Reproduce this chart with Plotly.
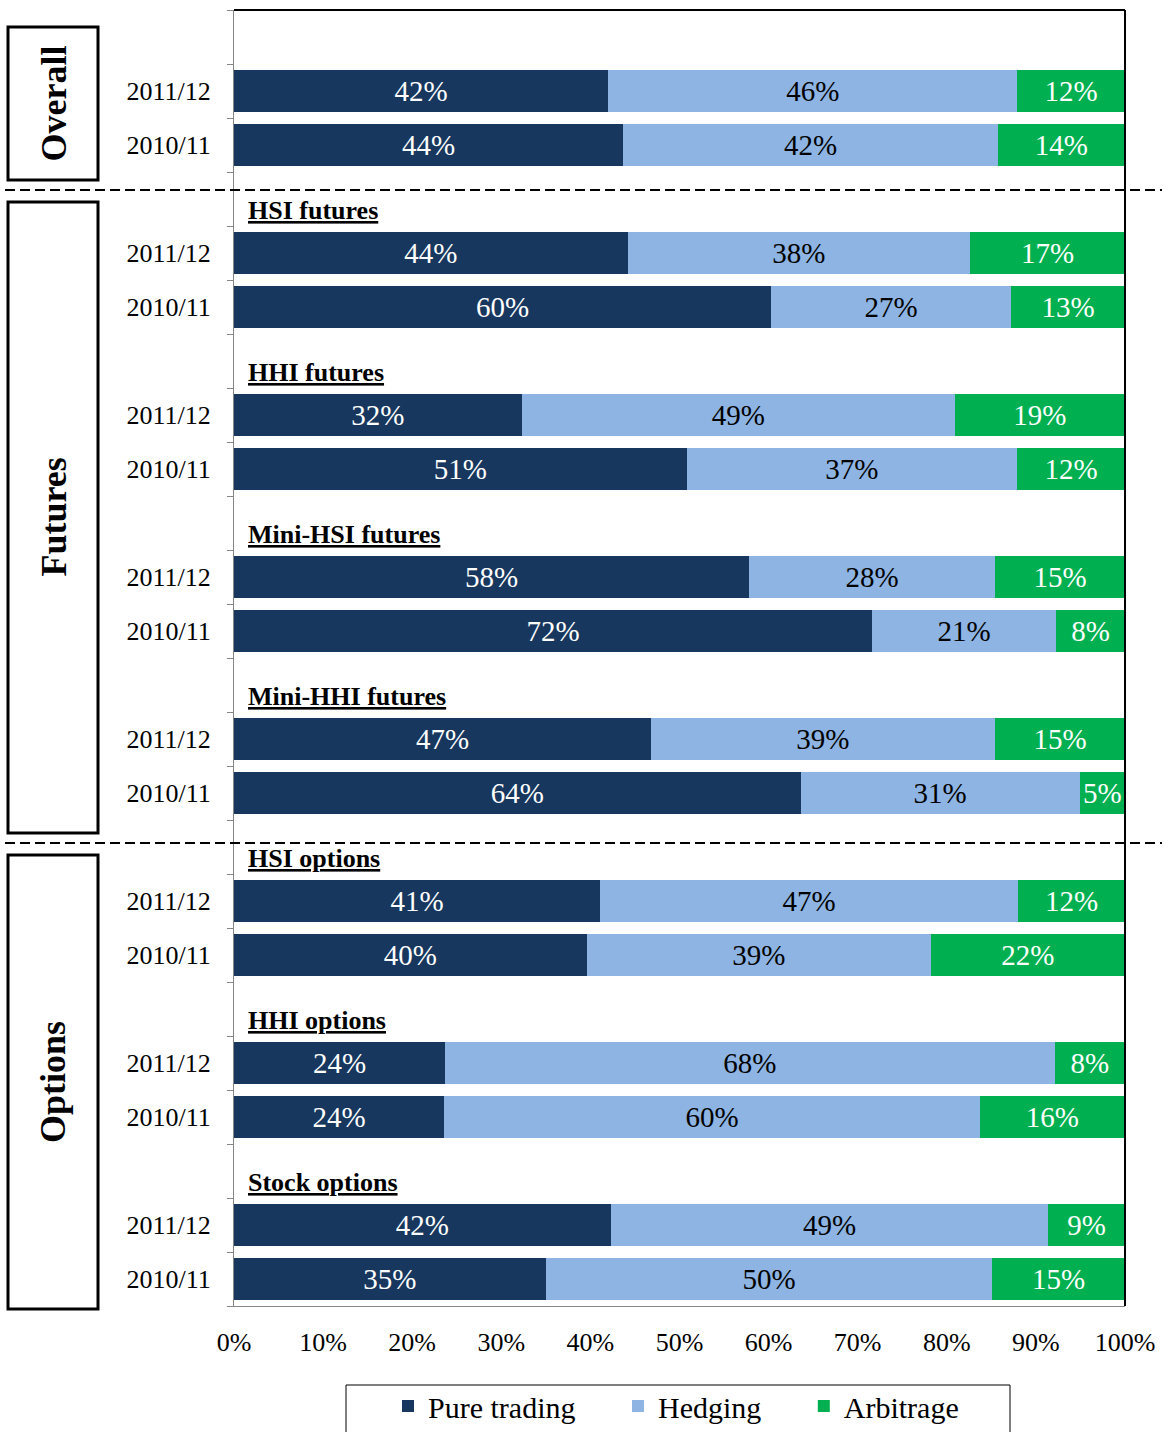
import plotly.graph_objects as go

# ---------------- data ----------------
groups = ["Overall", "HSI futures", "HHI futures", "Mini-HSI futures",
          "Mini-HHI futures", "HSI options", "HHI options", "Stock options"]
years = ["2011/12", "2010/11"]
series_names = ["Pure trading", "Hedging", "Arbitrage"]

# values in percent, order: per group [2011/12, 2010/11]
pure_trading = [42.0, 43.7, 44.2, 60.3, 32.3, 50.8, 57.8, 71.6,
                46.8, 63.6, 41.1, 39.6, 23.7, 23.6, 42.3, 35.0]
hedging = [45.9, 42.0, 38.4, 26.9, 48.6, 37.1, 27.6, 20.7,
           38.6, 31.3, 46.9, 38.6, 68.4, 60.1, 49.1, 50.1]
arbitrage = [12.1, 14.3, 17.4, 12.8, 19.1, 12.1, 14.6, 7.7,
             14.6, 5.1, 12.0, 21.8, 7.9, 16.3, 8.6, 14.9]

x_ticks = list(range(0, 101, 10))
section_labels = ["Overall", "Futures", "Options"]

# ---------------- layout helpers ----------------
W, H = 1169, 1432
L, R, T, B = 234, 1125, 10, 1306   # plot area in page pixels
PW, PH = R - L, B - T

def px_x(p):
    return (p - L) / PW

def px_y(p):
    return 1 - (p - T) / PH

# row positions: row 0 blank, overall rows 1,2 ; each other group: label row, then two data rows
ypos, ylab = [], []
label_rows = []
r = 1
for gi, g in enumerate(groups):
    if gi > 0:
        label_rows.append((g, r))
        r += 1
    for yl in years:
        ypos.append(r)
        ylab.append(yl)
        r += 1
n_rows = r  # 24

FONT = "Liberation Serif, Times New Roman, serif"
C_DARK, C_LIGHT, C_GREEN = "#17375E", "#8DB4E2", "#00B050"
PAD = "\u00a0" * 5

fig = go.Figure()
for name, vals, col, tcol in [(series_names[0], pure_trading, C_DARK, "white"),
                              (series_names[1], hedging, C_LIGHT, "black"),
                              (series_names[2], arbitrage, C_GREEN, "white")]:
    fig.add_trace(go.Bar(
        name=name + PAD, x=vals, y=ypos, orientation="h",
        marker=dict(color=col, line=dict(width=0)),
        texttemplate="%{x:.0f}%", textposition="inside",
        insidetextanchor="middle", textangle=0, constraintext="none",
        insidetextfont=dict(family=FONT, size=29, color=tcol),
        hoverinfo="skip",
    ))

shapes = []
# frame: top & right black
shapes.append(dict(type="line", xref="paper", yref="paper", x0=0, x1=1, y0=1, y1=1,
                   line=dict(color="black", width=2)))
shapes.append(dict(type="line", xref="paper", yref="paper", x0=1, x1=1, y0=0, y1=1,
                   line=dict(color="black", width=2)))
# dashed separators
for yy in [190, 843]:
    shapes.append(dict(type="line", xref="paper", yref="paper",
                       x0=px_x(5), x1=px_x(1162), y0=px_y(yy), y1=px_y(yy),
                       line=dict(color="black", width=2, dash="10px,5px")))
# section boxes
boxes = [(27, 180), (202, 833), (855, 1309)]
annotations = []
for (y0, y1), lab in zip(boxes, section_labels):
    shapes.append(dict(type="rect", xref="paper", yref="paper",
                       x0=px_x(8), x1=px_x(98), y0=px_y(y1), y1=px_y(y0),
                       line=dict(color="black", width=3), fillcolor="rgba(0,0,0,0)"))
    annotations.append(dict(xref="paper", yref="paper", x=px_x(53), y=px_y((y0 + y1) / 2),
                            text="<b>%s</b>" % lab, textangle=-90, showarrow=False,
                            font=dict(family=FONT, size=36, color="black"),
                            xanchor="center", yanchor="middle"))
# legend box
shapes.append(dict(type="rect", xref="paper", yref="paper",
                   x0=px_x(346), x1=px_x(1010), y0=px_y(1450), y1=px_y(1385),
                   line=dict(color="black", width=1), fillcolor="rgba(0,0,0,0)"))

# group labels
for g, rr in label_rows:
    annotations.append(dict(xref="paper", yref="y", x=px_x(246), y=rr + 0.22,
                            text="<b><u>%s</u></b>" % g, showarrow=False,
                            font=dict(family=FONT, size=26, color="black"),
                            xanchor="left", yanchor="middle"))

fig.update_layout(
    width=W, height=H,
    margin=dict(l=L, r=W - R, t=T, b=H - B, pad=0, autoexpand=False),
    paper_bgcolor="white", plot_bgcolor="white",
    barmode="stack", bargap=0.23,
    font=dict(family=FONT, color="black"),
    shapes=shapes, annotations=annotations,
    showlegend=True,
    legend=dict(orientation="h", traceorder="normal", x=px_x(388), xanchor="left",
                y=px_y(1406), yanchor="middle",
                font=dict(family=FONT, size=30, color="black"),
                bgcolor="rgba(0,0,0,0)", borderwidth=0),
    xaxis=dict(range=[0, 100], tickmode="array", tickvals=x_ticks,
               ticktext=["%d%%" % v for v in x_ticks],
               showgrid=False, zeroline=False, showline=True, linecolor="#868686",
               linewidth=1, ticks="", ticklabelstandoff=13, automargin=False,
               tickfont=dict(family=FONT, size=26, color="black")),
    yaxis=dict(range=[n_rows - 0.5, -0.5], tickmode="array", tickvals=ypos,
               ticktext=ylab, showgrid=False, zeroline=False, showline=True,
               linecolor="#868686", linewidth=1, ticks="", ticklabelstandoff=17,
               automargin=False,
               tickfont=dict(family=FONT, size=26, color="black"),
               minor=dict(tickmode="array", tickvals=[k - 0.5 for k in range(n_rows + 1)],
                          ticks="outside", ticklen=6, tickcolor="#868686", tickwidth=1,
                          showgrid=False)),
)

fig.write_html("out.html", config={"displayModeBar": False},
               post_script="document.body.style.margin='0px';document.body.style.overflow='hidden';")
